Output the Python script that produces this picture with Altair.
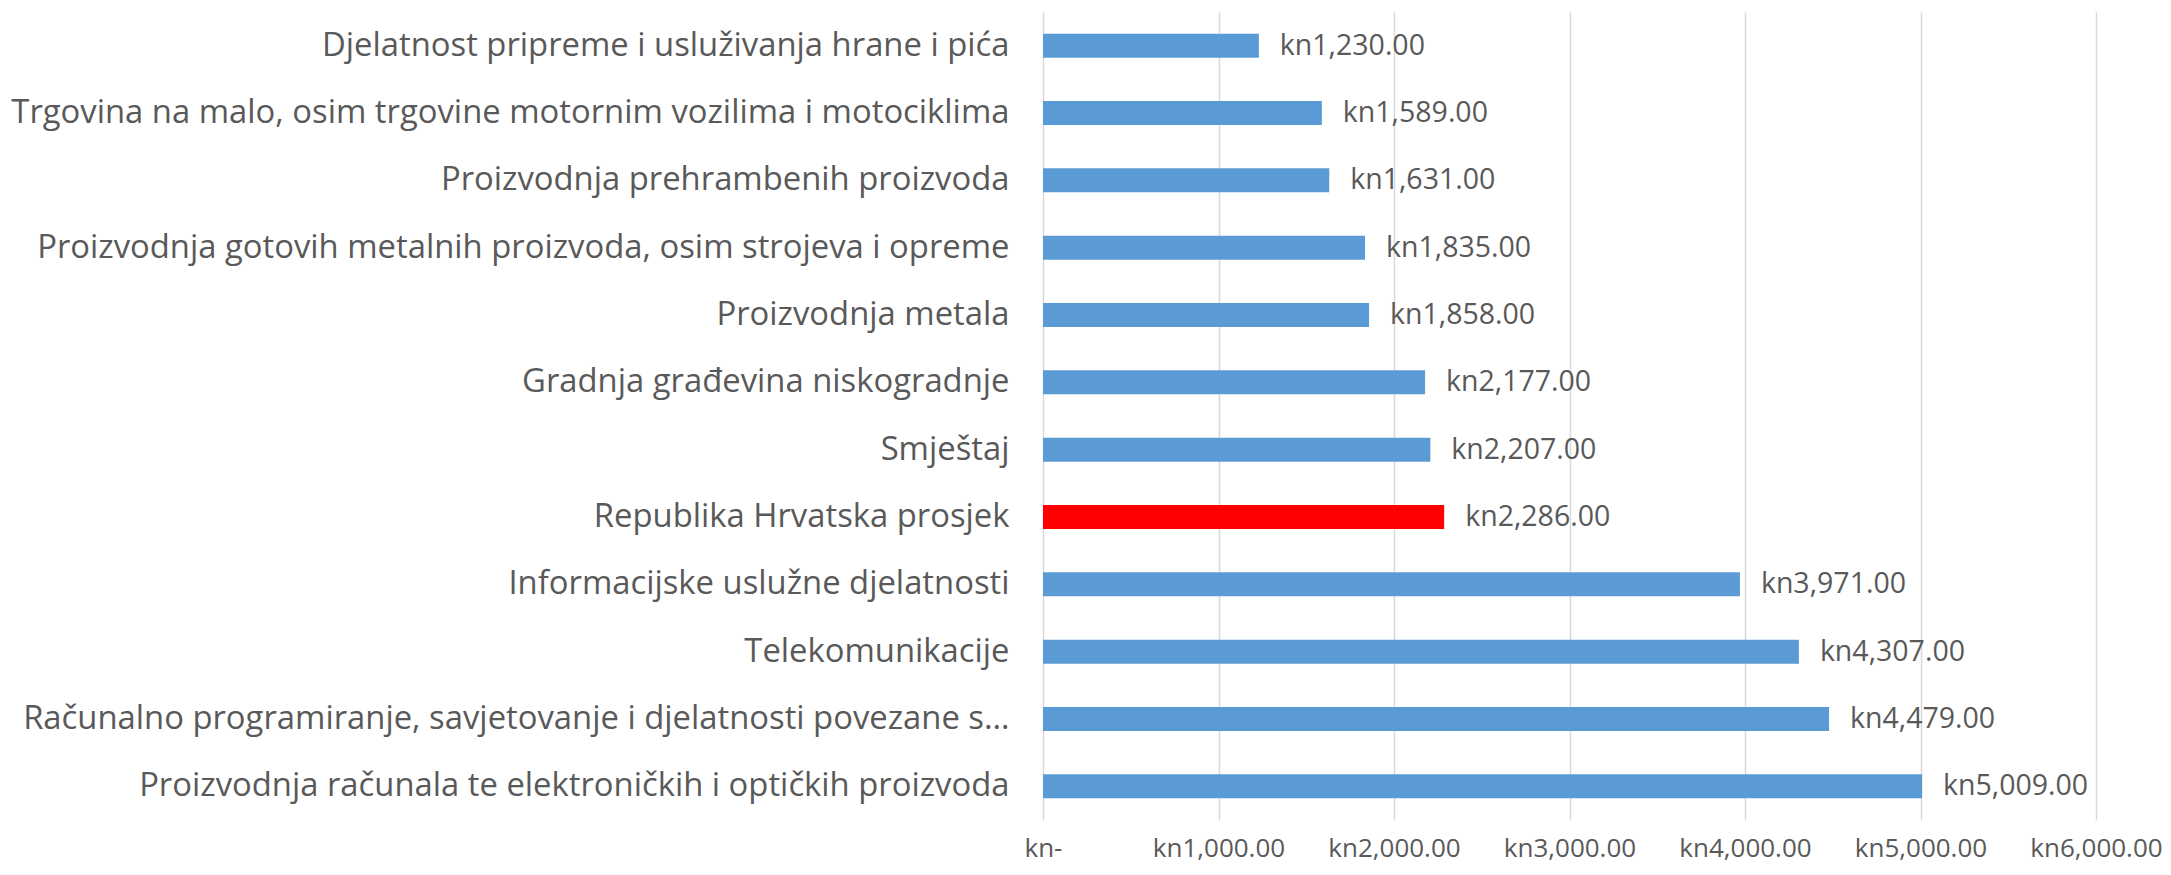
import altair as alt
import pandas as pd

categories = [
    "Djelatnost pripreme i usluživanja hrane i pića",
    "Trgovina na malo, osim trgovine motornim vozilima i motociklima",
    "Proizvodnja prehrambenih proizvoda",
    "Proizvodnja gotovih metalnih proizvoda, osim strojeva i opreme",
    "Proizvodnja metala",
    "Gradnja građevina niskogradnje",
    "Smještaj",
    "Republika Hrvatska prosjek",
    "Informacijske uslužne djelatnosti",
    "Telekomunikacije",
    "Računalno programiranje, savjetovanje i djelatnosti povezane s…",
    "Proizvodnja računala te elektroničkih i optičkih proizvoda",
]
values = [1230, 1589, 1631, 1835, 1858, 2177, 2207, 2286, 3971, 4307, 4479, 5009]
x_ticks = [0, 1000, 2000, 3000, 4000, 5000, 6000]
highlight = "Republika Hrvatska prosjek"

df = pd.DataFrame({"kategorija": categories, "vrijednost": values})

FONT = "Open Sans"
TXT = "#595959"

y_enc = alt.Y(
    "kategorija:N",
    sort=None,
    title=None,
    scale=alt.Scale(paddingInner=0, paddingOuter=0),
    axis=alt.Axis(
        ticks=False,
        domain=False,
        grid=False,
        labelPadding=34,
        labelLimit=1100,
        labelFont=FONT,
        labelFontSize=32.8,
        labelColor=TXT,
    ),
)
x_enc = alt.X(
    "vrijednost:Q",
    title=None,
    scale=alt.Scale(domain=[0, 6000], nice=False),
    axis=alt.Axis(
        values=x_ticks,
        ticks=False,
        domain=False,
        grid=True,
        gridColor="#D9D9D9",
        gridWidth=1.5,
        labelPadding=15,
        labelOverlap=False,
        labelFlush=False,
        labelBound=False,
        labelFont=FONT,
        labelFontSize=26,
        labelColor=TXT,
        labelExpr="datum.value == 0 ? 'kn-' : 'kn' + format(datum.value, ',.2f')",
    ),
)

bars = alt.Chart(df).mark_bar(size=24).encode(
    y=y_enc,
    x=x_enc,
    color=alt.condition(
        alt.datum.kategorija == highlight, alt.value("#FF0000"), alt.value("#5B9BD5")
    ),
)

labels = alt.Chart(df).transform_calculate(
    lbl="'kn' + format(datum.vrijednost, ',.2f')"
).mark_text(
    align="left", baseline="middle", dx=21, font=FONT, fontSize=28.5, color=TXT
).encode(
    y=alt.Y("kategorija:N", sort=None),
    x=alt.X("vrijednost:Q"),
    text="lbl:N",
)

chart = alt.layer(bars, labels).properties(
    width=1053,
    height=808,
    padding={"left": 1035, "top": 4, "right": 66, "bottom": 47},
    autosize=alt.AutoSizeParams(type="none"),
).configure_view(stroke=None)

chart.save("out.html", embed_options={"renderer": "svg", "actions": False})
